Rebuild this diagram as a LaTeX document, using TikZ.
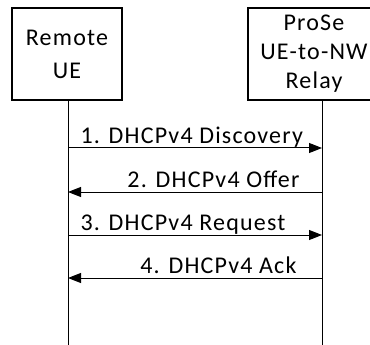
\documentclass[tikz,border=0pt]{standalone}
\usepackage{fontspec}
\setmainfont[LetterSpace=5]{Carlito}
\usetikzlibrary{arrows.meta}

\begin{document}
\begin{tikzpicture}[x=1pt, y=-1pt,
    every node/.style={font=\fontsize{24}{33}\selectfont},
    entity/.style={draw, line width=1.2pt, minimum height=92pt, align=center, inner sep=0pt},
    lifeline/.style={draw, line width=1pt},
    msg/.style={-{Triangle[length=13pt,width=10pt]}, line width=1pt},
    lbl/.style={inner sep=0pt, yshift=5pt}
  ]
    \useasboundingbox (0,0) rectangle (370,345);
    \node[entity, minimum width=110pt] (remote) at (67,54) {Remote\\UE};
    \node[entity, minimum width=132pt, font=\fontsize{24}{29}\selectfont] (relay) at (314,54) {ProSe\\UE-to-NW\\Relay};
    % lifelines
    \coordinate (remoteTop) at (68,100);
    \coordinate (remoteEnd) at (68,345);
    \coordinate (relayTop) at (322,100);
    \coordinate (relayEnd) at (322,345);
    \draw[lifeline] (remoteTop) -- (remoteEnd);
    \draw[lifeline] (relayTop) -- (relayEnd);
    % messages
    \coordinate (m1a) at (68,148);  \coordinate (m1b) at (322,148);
    \coordinate (m2a) at (68,192);  \coordinate (m2b) at (322,192);
    \coordinate (m3a) at (68,235);  \coordinate (m3b) at (322,235);
    \coordinate (m4a) at (68,278);  \coordinate (m4b) at (322,278);
    \draw[msg] (m1a) -- node[lbl, at start, anchor=base west, xshift=12pt] {1. DHCPv4 Discovery} (m1b);
    \draw[msg] (m2b) -- node[lbl, at start, anchor=base east, xshift=-22pt] {2. DHCPv4 Offer} (m2a);
    \draw[msg] (m3a) -- node[lbl, at start, anchor=base west, xshift=12pt] {3. DHCPv4 Request} (m3b);
    \draw[msg] (m4b) -- node[lbl, at start, anchor=base east, xshift=-25pt] {4. DHCPv4 Ack} (m4a);
\end{tikzpicture}
\end{document}
